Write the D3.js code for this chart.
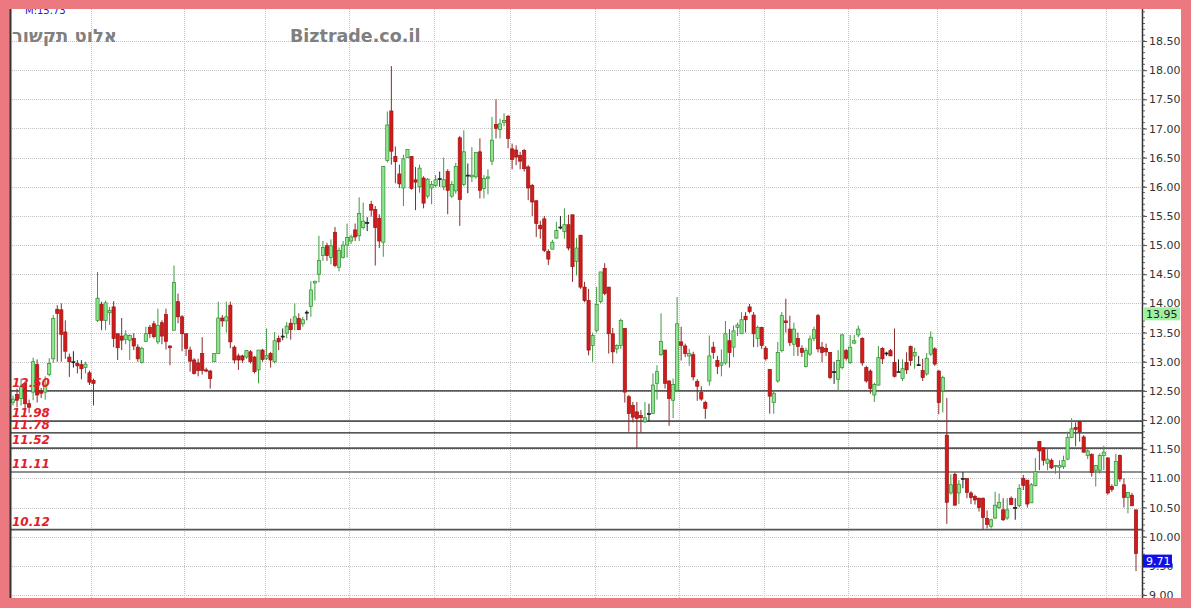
<!DOCTYPE html>
<html><head><meta charset="utf-8">
<script src="https://cdn.jsdelivr.net/npm/d3@7"></script>
<style>html,body{margin:0;padding:0;background:#ec7880;}svg{display:block;}</style>
</head><body>
<svg id="c" width="1191" height="608"></svg>
<script>
// [open, high, low, close] per trading day
const ohlc = [
[12.30,12.42,12.25,12.36],[12.44,12.54,12.22,12.34],[12.37,12.71,12.25,12.57],[12.63,12.66,12.18,12.28],[12.28,12.35,12.12,12.22],
[12.48,13.07,12.34,13.00],[12.95,13.04,12.30,12.43],[12.50,12.55,12.38,12.46],[12.48,12.75,12.35,12.60],[12.78,13.06,12.75,12.97],
[13.05,13.80,12.98,13.74],[13.90,13.97,13.00,13.83],[13.89,14.00,13.00,13.47],[13.51,13.71,13.05,13.18],[13.08,13.14,12.74,13.00],
[13.00,13.18,12.90,12.99],[12.97,13.03,12.80,12.93],[12.95,13.03,12.70,12.88],[12.90,13.00,12.80,12.96],[12.81,12.85,12.60,12.65],
[12.68,12.71,12.25,12.63],[13.71,14.54,13.68,14.09],[13.98,14.03,13.54,13.71],[13.71,14.05,13.54,14.01],[13.84,13.94,13.63,13.88],
[13.94,14.04,13.25,13.40],[13.48,13.48,13.03,13.24],[13.44,13.75,13.20,13.37],[13.38,13.54,13.30,13.46],[13.37,13.47,13.03,13.45],
[13.40,13.49,13.20,13.27],[13.25,13.30,13.00,13.05],[12.99,13.26,12.97,13.23],[13.35,13.60,13.34,13.48],[13.59,13.63,13.41,13.48],
[13.65,13.70,13.40,13.43],[13.34,13.91,13.30,13.62],[13.67,13.71,13.30,13.44],[13.81,13.91,13.21,13.35],[13.27,13.28,12.94,13.24],
[13.54,14.65,13.54,14.36],[14.03,14.17,13.66,13.77],[13.77,13.80,13.18,13.48],[13.48,13.48,13.10,13.23],[13.20,13.26,12.83,13.01],
[13.03,13.06,12.78,12.80],[12.98,13.05,12.75,12.85],[13.14,13.42,12.78,12.85],[12.86,12.90,12.82,12.84],[12.84,12.86,12.54,12.71],
[13.00,13.14,13.00,13.14],[13.14,14.03,13.14,13.75],[13.75,13.80,13.60,13.70],[13.70,14.03,13.50,13.77],[13.97,14.03,13.23,13.34],
[13.25,13.28,12.97,13.03],[13.10,13.14,12.86,13.03],[13.10,13.12,12.98,13.03],[13.08,13.20,13.05,13.19],[13.17,13.20,12.97,13.00],
[13.08,13.10,12.80,12.83],[12.86,13.20,12.63,13.20],[13.20,13.22,13.00,13.04],[13.06,13.57,13.03,13.11],[13.14,13.17,12.90,13.03],
[13.00,13.51,12.97,13.36],[13.40,13.45,13.20,13.34],[13.44,13.57,13.37,13.44],[13.49,13.68,13.40,13.61],[13.66,13.74,13.38,13.55],
[13.65,14.00,13.54,13.77],[13.74,13.83,13.54,13.55],[13.65,13.77,13.60,13.72],[13.85,13.88,13.71,13.85],[13.95,14.38,13.77,14.23],
[14.35,14.39,14.05,14.38],[14.50,15.16,14.36,14.74],[14.82,15.07,14.73,14.96],[14.99,15.04,14.73,14.82],[14.79,15.10,14.67,14.99],
[15.22,15.31,14.62,14.65],[14.62,14.96,14.55,14.91],[14.79,15.07,14.77,15.00],[15.00,15.37,14.79,15.13],[15.07,15.18,15.02,15.14],
[15.26,15.37,15.07,15.14],[15.16,15.82,15.07,15.54],[15.30,15.73,15.27,15.41],[15.39,15.48,15.24,15.39],[15.70,15.76,15.49,15.60],
[15.61,15.67,14.65,15.30],[15.46,15.53,14.95,15.07],[15.05,16.35,14.80,16.35],[16.45,17.29,16.42,17.06],[17.30,18.07,16.38,16.61],
[16.52,16.69,16.06,16.43],[16.22,16.38,15.98,16.05],[15.98,16.55,15.67,16.48],[16.50,16.64,16.50,16.64],[16.52,16.52,15.95,15.97],
[16.12,16.34,15.60,16.08],[16.00,16.38,15.90,16.32],[16.15,16.18,15.63,15.72],[15.84,16.15,15.80,16.13],[15.98,16.10,15.70,16.04],
[16.02,16.20,15.99,16.12],[16.14,16.26,16.00,16.14],[16.00,16.50,15.94,16.12],[16.26,16.30,15.53,15.94],[15.84,16.10,15.81,16.04],
[15.93,16.41,15.88,16.35],[16.84,16.87,15.33,15.78],[16.04,16.97,16.01,16.60],[16.20,16.40,15.89,16.20],[16.17,16.68,16.08,16.20],
[16.17,16.59,16.14,16.59],[16.60,16.83,15.80,15.94],[15.97,16.20,15.80,16.14],[16.14,16.30,15.87,16.17],[16.44,17.20,16.37,16.80],
[17.07,17.50,16.83,17.00],[16.98,17.17,16.83,17.08],[17.10,17.26,17.04,17.14],[17.21,17.23,16.66,16.83],[16.65,16.74,16.30,16.47],
[16.63,16.71,16.37,16.51],[16.54,16.60,16.30,16.44],[16.62,16.65,16.26,16.31],[16.34,16.37,15.77,15.98],[16.02,16.05,15.50,15.74],
[15.76,15.77,15.14,15.37],[15.34,15.42,15.11,15.28],[15.45,15.50,14.88,14.91],[14.89,14.93,14.66,14.76],[14.93,15.09,14.93,15.05],
[15.12,15.40,15.11,15.25],[15.31,15.50,15.27,15.31],[15.23,15.63,15.11,15.35],[15.35,15.52,14.91,14.95],[15.52,15.52,14.37,14.63],
[14.72,15.12,14.48,14.95],[15.17,15.17,14.25,14.28],[14.28,14.37,14.02,14.05],[14.05,14.25,13.11,13.20],[13.28,13.50,13.00,13.45],
[13.54,14.28,13.50,13.98],[14.03,14.54,14.00,14.54],[14.60,14.69,14.14,14.17],[14.28,14.28,13.14,13.48],[13.48,13.58,12.97,13.17],
[13.22,13.30,13.14,13.28],[13.28,13.74,13.22,13.71],[13.57,13.58,12.30,12.48],[12.40,12.43,11.80,12.11],[12.25,12.31,11.96,12.05],
[12.14,12.31,11.51,12.03],[12.08,12.17,11.78,12.04],[11.97,12.31,11.95,12.04],[12.11,12.28,11.98,12.11],[12.11,12.80,12.11,12.60],
[12.63,12.94,12.35,12.83],[13.12,13.83,13.10,13.35],[13.20,13.20,12.54,12.63],[12.67,12.68,11.90,12.37],[12.34,12.71,12.03,12.61],
[12.51,14.11,12.51,13.65],[13.34,13.60,13.02,13.28],[13.27,13.31,13.08,13.14],[13.10,13.22,12.93,13.14],[13.12,13.17,12.68,12.74],
[12.66,12.70,12.33,12.58],[12.47,12.58,12.33,12.36],[12.30,12.33,12.02,12.20],[12.67,13.45,12.59,13.10],[13.25,13.34,13.05,13.16],
[13.02,13.10,12.79,12.92],[12.94,13.21,12.75,12.98],[12.98,13.70,12.95,13.48],[13.36,13.56,12.90,13.16],[13.25,13.62,13.08,13.53],
[13.59,13.67,13.44,13.63],[13.48,13.85,13.48,13.72],[13.78,13.85,13.50,13.72],[13.94,13.99,13.83,13.86],[13.80,13.85,13.25,13.48],
[13.40,13.62,13.25,13.59],[13.59,13.60,13.22,13.28],[13.23,13.27,13.02,13.05],[12.87,12.87,12.11,12.41],[12.30,12.51,12.11,12.46],
[12.67,13.34,12.64,13.16],[13.19,13.85,13.16,13.79],[13.70,14.08,13.50,13.67],[13.56,13.79,13.27,13.33],[13.30,13.67,13.10,13.56],
[13.40,13.50,13.10,13.26],[13.23,13.28,13.08,13.16],[12.92,13.24,12.90,13.19],[13.13,13.45,13.10,13.39],[13.40,13.60,13.35,13.55],
[13.79,13.82,13.16,13.22],[13.25,13.34,12.99,13.16],[13.23,13.31,13.10,13.17],[13.16,13.16,12.70,12.73],[12.83,13.00,12.62,12.83],
[12.70,13.20,12.50,13.02],[12.90,13.48,12.87,13.46],[13.19,13.22,13.02,13.06],[12.99,13.46,12.96,13.25],[13.32,13.46,13.30,13.36],
[13.46,13.62,13.42,13.56],[13.40,13.42,12.93,12.98],[12.90,12.93,12.64,12.67],[12.84,12.87,12.45,12.54],[12.43,12.64,12.31,12.61],
[12.60,13.27,12.59,13.07],[13.23,13.25,12.96,13.05],[13.15,13.17,13.10,13.15],[13.19,13.22,13.10,13.10],[12.99,13.57,12.73,12.75],
[12.83,13.04,12.82,12.83],[12.71,13.04,12.67,12.88],[12.99,13.16,12.79,12.86],[13.26,13.28,12.93,13.02],[13.10,13.24,12.88,13.16],
[12.95,13.10,12.93,12.95],[12.85,13.05,12.67,12.73],[12.79,13.15,12.76,13.06],[13.13,13.52,13.10,13.42],[13.22,13.25,12.93,12.96],
[12.84,12.86,12.10,12.30],[12.50,12.76,12.13,12.73],[11.74,12.38,10.22,10.59],[10.75,11.07,10.72,10.89],[11.07,11.10,10.54,10.54],
[10.75,10.97,10.56,10.90],[11.00,11.11,10.83,11.00],[11.00,11.00,10.66,10.76],[10.75,10.78,10.56,10.67],[10.69,10.72,10.55,10.63],
[10.66,10.67,10.43,10.50],[10.66,10.67,10.12,10.33],[10.31,10.45,10.14,10.21],[10.18,10.31,10.14,10.29],[10.32,10.77,10.30,10.54],
[10.50,10.74,10.47,10.59],[10.46,10.66,10.27,10.29],[10.32,10.66,10.29,10.46],[10.66,10.69,10.54,10.55],[10.50,10.66,10.29,10.50],
[10.53,10.90,10.50,10.83],[11.00,11.06,10.80,10.88],[10.97,10.97,10.50,10.56],[10.58,10.92,10.58,10.89],[10.88,11.35,10.86,11.12],
[11.63,11.64,11.14,11.47],[11.52,11.53,11.22,11.31],[11.26,11.50,11.14,11.33],[11.31,11.34,11.16,11.18],[11.20,11.23,11.08,11.22],
[11.19,11.31,10.99,11.22],[11.20,11.39,11.16,11.31],[11.33,11.80,11.31,11.70],[11.70,12.03,11.69,11.85],[11.87,11.96,11.55,11.84],
[11.97,11.99,11.63,11.80],[11.71,11.74,11.44,11.45],[11.39,11.50,11.33,11.47],[11.41,11.43,11.03,11.10],[11.14,11.22,10.86,11.22],
[11.14,11.43,11.08,11.39],[11.39,11.56,11.14,11.45],[11.35,11.36,10.72,10.75],[10.86,10.90,10.77,10.81],[10.88,11.42,10.87,11.29],
[11.39,11.41,10.94,10.99],[10.89,11.00,10.50,10.67],[10.67,10.71,10.40,10.76],[10.71,10.75,10.53,10.53],[10.46,10.46,9.41,9.71]
];
const priceTicks = [9.0,9.5,10.0,10.5,11.0,11.5,12.0,12.5,13.0,13.5,14.0,14.5,15.0,15.5,16.0,16.5,17.0,17.5,18.0,18.5];
const levels = [12.50, 11.98, 11.78, 11.52, 11.11, 10.12];
const levelHeavy = [false, true, false, true, false, true];
const monthStarts = [20, 43, 63, 84, 105, 124, 145, 166, 187, 208, 230, 251, 272];
const markerMA = 13.95;
const lastClose = 9.71;
const titleHe = "אלוט תקשור";
const siteName = "Biztrade.co.il";
const topNote = "M:15.73";

const W = 1191, H = 608;
const L = 10, R = 1142, T = 9, B = 598;
const svg = d3.select("#c");
const N = ohlc.length;
const x = d3.scaleLinear().domain([0, N - 1]).range([13, 1136]);
const y = d3.scaleLinear().domain([9, 18.5]).range([595, 41]);
const step = x(1) - x(0);

svg.append("rect").attr("x",0).attr("y",0).attr("width",W).attr("height",H).attr("fill","#ec7880");
svg.append("rect").attr("x",L).attr("y",T).attr("width",1181-L).attr("height",B-T).attr("fill","#ffffff");

const clip = svg.append("defs").append("clipPath").attr("id","pc");
clip.append("rect").attr("x",L).attr("y",T).attr("width",R-L).attr("height",B-T);
const g = svg.append("g").attr("clip-path","url(#pc)");

// grid
g.selectAll("line.hg").data(priceTicks).join("line").attr("class","hg")
 .attr("x1",L).attr("x2",R).attr("y1",d=>Math.round(y(d))+0.5).attr("y2",d=>Math.round(y(d))+0.5)
 .attr("stroke","#c4c4c4").attr("stroke-dasharray","1,1");
g.selectAll("line.vg").data(monthStarts).join("line").attr("class","vg")
 .attr("x1",d=>Math.round(x(d)-step/2)+0.5).attr("x2",d=>Math.round(x(d)-step/2)+0.5).attr("y1",T).attr("y2",B)
 .attr("stroke","#c4c4c4").attr("stroke-dasharray","1,1");

// level lines
g.selectAll("line.lv").data(levels).join("line").attr("class","lv")
 .attr("x1",L).attr("x2",R).attr("y1",d=>y(d)).attr("y2",d=>y(d))
 .attr("stroke",(d,i)=>levelHeavy[i]?"#555":"#222").attr("stroke-width",(d,i)=>levelHeavy[i]?1.8:1.1);

// candles
const cg = g.append("g");
const up = d=>d[3]>=d[0];
const doji = d=>Math.abs(d[3]-d[0])<0.015;
cg.selectAll("line.w").data(ohlc).join("line").attr("class","w")
 .attr("x1",(d,i)=>x(i)).attr("x2",(d,i)=>x(i))
 .attr("y1",d=>y(d[1])).attr("y2",d=>y(d[2]))
 .attr("stroke",d=>doji(d)?"#222":(up(d)?"#3f9a3f":"#8a2b2b")).attr("stroke-width",1);
cg.selectAll("rect.b").data(ohlc).join("rect").attr("class","b")
 .attr("x",(d,i)=>x(i)-1.6).attr("width",3.2)
 .attr("y",d=>y(Math.max(d[0],d[3])))
 .attr("height",d=>Math.max(1,Math.abs(y(d[0])-y(d[3]))))
 .attr("fill",d=>doji(d)?"#222":(up(d)?"#8fe48f":"#d21a1a"))
 .attr("stroke",d=>doji(d)?"#222":(up(d)?"#2e8b2e":"#9a1414")).attr("stroke-width",0.7);

// level labels
g.selectAll("text.ll").data(levels).join("text").attr("class","ll")
 .attr("x",12).attr("y",d=>y(d)-4)
 .attr("font-family","DejaVu Sans, Verdana, sans-serif").attr("font-size",12).attr("font-style","italic").attr("font-weight","bold")
 .attr("fill","#e3202a").text(d=>d3.format(".2f")(d));

// titles
g.append("text").attr("x",12).attr("y",42).attr("font-family","DejaVu Sans, sans-serif").attr("font-weight","bold")
 .attr("font-size",18).attr("fill","#808080").text(titleHe);
g.append("text").attr("x",290).attr("y",42).attr("font-family","DejaVu Sans, Verdana, sans-serif").attr("font-weight","bold")
 .attr("font-size",17.5).attr("fill","#7f7f7f").text(siteName);
svg.append("text").attr("x",25).attr("y",14).attr("font-family","DejaVu Sans, sans-serif").attr("font-size",10)
 .attr("fill","#2020d0").text(topNote);

// left border
svg.append("line").attr("x1",L+0.5).attr("x2",L+0.5).attr("y1",T).attr("y2",B).attr("stroke","#333").attr("stroke-width",2);

// right axis
const ax = svg.append("g").attr("transform",`translate(${R},0)`);
const minor = d3.range(9.0, 19.01, 0.1).map(v=>+v.toFixed(1));
ax.selectAll("line.mt").data(minor).join("line").attr("x1",0).attr("x2",3)
 .attr("y1",d=>y(d)).attr("y2",d=>y(d)).attr("stroke","#666");
ax.call(d3.axisRight(y).tickValues(priceTicks).tickFormat(d3.format(".2f")).tickSize(5).tickPadding(2))
 .call(s=>s.select(".domain").attr("stroke","#333").attr("stroke-width",1.5).attr("d",`M0.5,${T}V${B}`))
 .call(s=>s.selectAll("text").attr("font-family","DejaVu Sans, Verdana, sans-serif").attr("font-size",11).attr("fill","#333"))
 .call(s=>s.selectAll(".tick line").attr("stroke","#555"));

// value markers (drawn over the axis labels, as in the reference)
function marker(v, bg, fg, w){
  const m = ax.append("g").attr("transform",`translate(1,${y(v)+1})`);
  m.append("rect").attr("width",w).attr("height",13).attr("fill",bg);
  m.append("text").attr("x",3).attr("y",10.5).attr("font-family","DejaVu Sans, Verdana, sans-serif").attr("font-size",11).attr("fill",fg).text(d3.format(".2f")(v));
}
marker(markerMA, "#9ff09f", "#222", 37);
marker(lastClose, "#1010e8", "#fff", 29);

// border overlays
svg.append("rect").attr("x",0).attr("y",0).attr("width",W).attr("height",T).attr("fill","#ec7880");
svg.append("rect").attr("x",0).attr("y",B).attr("width",W).attr("height",H-B).attr("fill","#ec7880");
svg.append("rect").attr("x",1181).attr("y",0).attr("width",W-1181).attr("height",H).attr("fill","#ec7880");
svg.append("rect").attr("x",0).attr("y",0).attr("width",L-1).attr("height",H).attr("fill","#ec7880");
</script>
</body></html>
